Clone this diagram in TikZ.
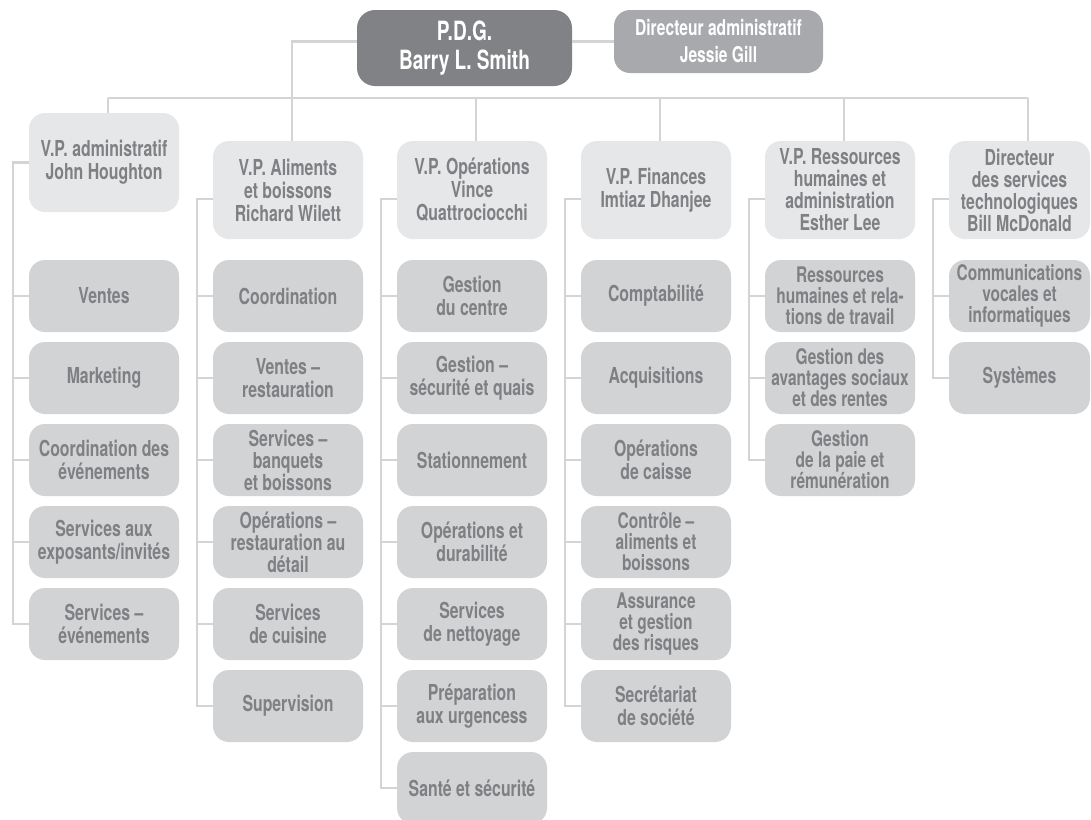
\documentclass[tikz,border=0pt]{standalone}
\usepackage{fontspec}
\setmainfont{TeX Gyre Heros}[FakeStretch=0.72]
\definecolor{linec}{HTML}{D3D4D5}
\definecolor{ceoc}{HTML}{808285}
\definecolor{dirc}{HTML}{A7A9AC}
\definecolor{vpc}{HTML}{E6E7E8}
\definecolor{childc}{HTML}{D1D3D4}
\definecolor{textc}{HTML}{7F8083}
\tikzset{
  conn/.style={draw=linec, line width=2.5pt},
  box/.style={rounded corners=16pt, minimum width=150pt, inner sep=0pt, align=center,
    text=textc, font=\bfseries\fontsize{22}{23}\selectfont},
  childbox/.style={box, fill=childc, minimum height=72pt},
  vpbox/.style={box, fill=vpc, minimum height=98pt},
  narrowbox/.style={minimum width=141pt},
  ceobox/.style={rounded corners=18pt, fill=ceoc, text=white, minimum width=215pt,
    minimum height=76pt, align=center, font=\bfseries\fontsize{26.5}{29}\selectfont},
  dirbox/.style={rounded corners=16pt, fill=dirc, text=white, minimum width=209pt,
    minimum height=63pt, align=center, font=\bfseries\fontsize{21.7}{27}\selectfont},
  tight/.style={font=\bfseries\fontsize{21.5}{21}\selectfont},
  mid/.style={font=\bfseries\fontsize{22}{22}\selectfont}
}
\begin{document}
\begin{tikzpicture}[x=1pt,y=-1pt]
\useasboundingbox (0,0) rectangle (1091,819);
% top
\node[ceobox] (ceo) at (464.5,48) {P.D.G.\\Barry L. Smith};
\node[dirbox] (dir) at (718.5,41.5) {Directeur administratif\\Jessie Gill};
% VP boxes
\node[vpbox, minimum height=99pt] (v1) at (104,162.5) {V.P. administratif\\John Houghton};
\node[vpbox] (v2) at (288,190) {V.P. Aliments\\et boissons\\Richard Wilett};
\node[vpbox] (v3) at (472,190) {V.P. Opérations\\Vince\\Quattrociocchi};
\node[vpbox] (v4) at (656,190) {V.P. Finances\\Imtiaz Dhanjee};
\node[vpbox, mid] (v5) at (840,190) {V.P. Ressources\\humaines et\\administration\\Esther Lee};
\node[vpbox, narrowbox, mid] (v6) at (1019.5,190) {Directeur\\des services\\technologiques\\Bill McDonald};
% column 1
\node[childbox] (c1a) at (104,296) {Ventes};
\node[childbox] (c1b) at (104,378) {Marketing};
\node[childbox] (c1c) at (104,460) {Coordination des\\événements};
\node[childbox] (c1d) at (104,542) {Services aux\\exposants/invités};
\node[childbox] (c1e) at (104,624) {Services –\\événements};
% column 2
\node[childbox] (c2a) at (288,296) {Coordination};
\node[childbox] (c2b) at (288,378) {Ventes –\\restauration};
\node[childbox, mid] (c2c) at (288,460) {Services –\\banquets\\et boissons};
\node[childbox, mid] (c2d) at (288,542) {Opérations –\\restauration au\\détail};
\node[childbox] (c2e) at (288,624) {Services\\de cuisine};
\node[childbox] (c2f) at (288,706) {Supervision};
% column 3
\node[childbox] (c3a) at (472,296) {Gestion\\du centre};
\node[childbox] (c3b) at (472,378) {Gestion –\\sécurité et quais};
\node[childbox] (c3c) at (472,460) {Stationnement};
\node[childbox] (c3d) at (472,542) {Opérations et\\durabilité};
\node[childbox] (c3e) at (472,624) {Services\\de nettoyage};
\node[childbox] (c3f) at (472,706) {Préparation\\aux urgencess};
\node[childbox] (c3g) at (472,788) {Santé et sécurité};
% column 4
\node[childbox] (c4a) at (656,296) {Comptabilité};
\node[childbox] (c4b) at (656,378) {Acquisitions};
\node[childbox] (c4c) at (656,460) {Opérations\\de caisse};
\node[childbox, tight] (c4d) at (656,542) {Contrôle –\\aliments et\\boissons};
\node[childbox, tight] (c4e) at (656,624) {Assurance\\et gestion\\des risques};
\node[childbox] (c4f) at (656,706) {Secrétariat\\de société};
% column 5
\node[childbox, tight] (c5a) at (840,296) {Ressources\\humaines et rela-\\tions de travail};
\node[childbox, tight] (c5b) at (840,378) {Gestion des\\avantages sociaux\\et des rentes};
\node[childbox, tight] (c5c) at (840,460) {Gestion\\de la paie et\\rémunération};
% column 6
\node[childbox, narrowbox, tight] (c6a) at (1019.5,296) {Communications\\vocales et\\informatiques};
\node[childbox, narrowbox] (c6b) at (1019.5,378) {Systèmes};
% bus coordinates
\coordinate (d1) at (108,98);
\coordinate (d2) at (292,98);
\coordinate (d3) at (476,98);
\coordinate (d4) at (660,98);
\coordinate (d5) at (844,98);
\coordinate (d6) at (1028,98);
\draw[conn] (ceo.east |- dir.west) -- (dir.west);
\draw[conn] (ceo.west |- dir.west) -| (d2);
\draw[conn] (d1) -- (d6);
\draw[conn] (d1) -- (d1 |- v1.north);
\draw[conn] (d2) -- (d2 |- v2.north);
\draw[conn] (d3) -- (d3 |- v3.north);
\draw[conn] (d4) -- (d4 |- v4.north);
\draw[conn] (d5) -- (d5 |- v5.north);
\draw[conn] (d6) -- (d6 |- v6.north);
% spines
\draw[conn] (v1.west) -- ++(-16,0) |- (c1e.west);
\foreach \n in {c1a,c1b,c1c,c1d} \draw[conn] (\n.west) -- ++(-16,0);
\draw[conn] ([yshift=-9pt]v2.west) -- ++(-16,0) |- (c2f.west);
\foreach \n in {c2a,c2b,c2c,c2d,c2e} \draw[conn] (\n.west) -- ++(-16,0);
\draw[conn] ([yshift=-9pt]v3.west) -- ++(-16,0) |- (c3g.west);
\foreach \n in {c3a,c3b,c3c,c3d,c3e,c3f} \draw[conn] (\n.west) -- ++(-16,0);
\draw[conn] ([yshift=-9pt]v4.west) -- ++(-16,0) |- (c4f.west);
\foreach \n in {c4a,c4b,c4c,c4d,c4e} \draw[conn] (\n.west) -- ++(-16,0);
\draw[conn] ([yshift=-9pt]v5.west) -- ++(-16,0) |- (c5c.west);
\foreach \n in {c5a,c5b} \draw[conn] (\n.west) -- ++(-16,0);
\draw[conn] ([yshift=-9pt]v6.west) -- ++(-16,0) |- (c6b.west);
\foreach \n in {c6a} \draw[conn] (\n.west) -- ++(-16,0);
\end{tikzpicture}
\end{document}
